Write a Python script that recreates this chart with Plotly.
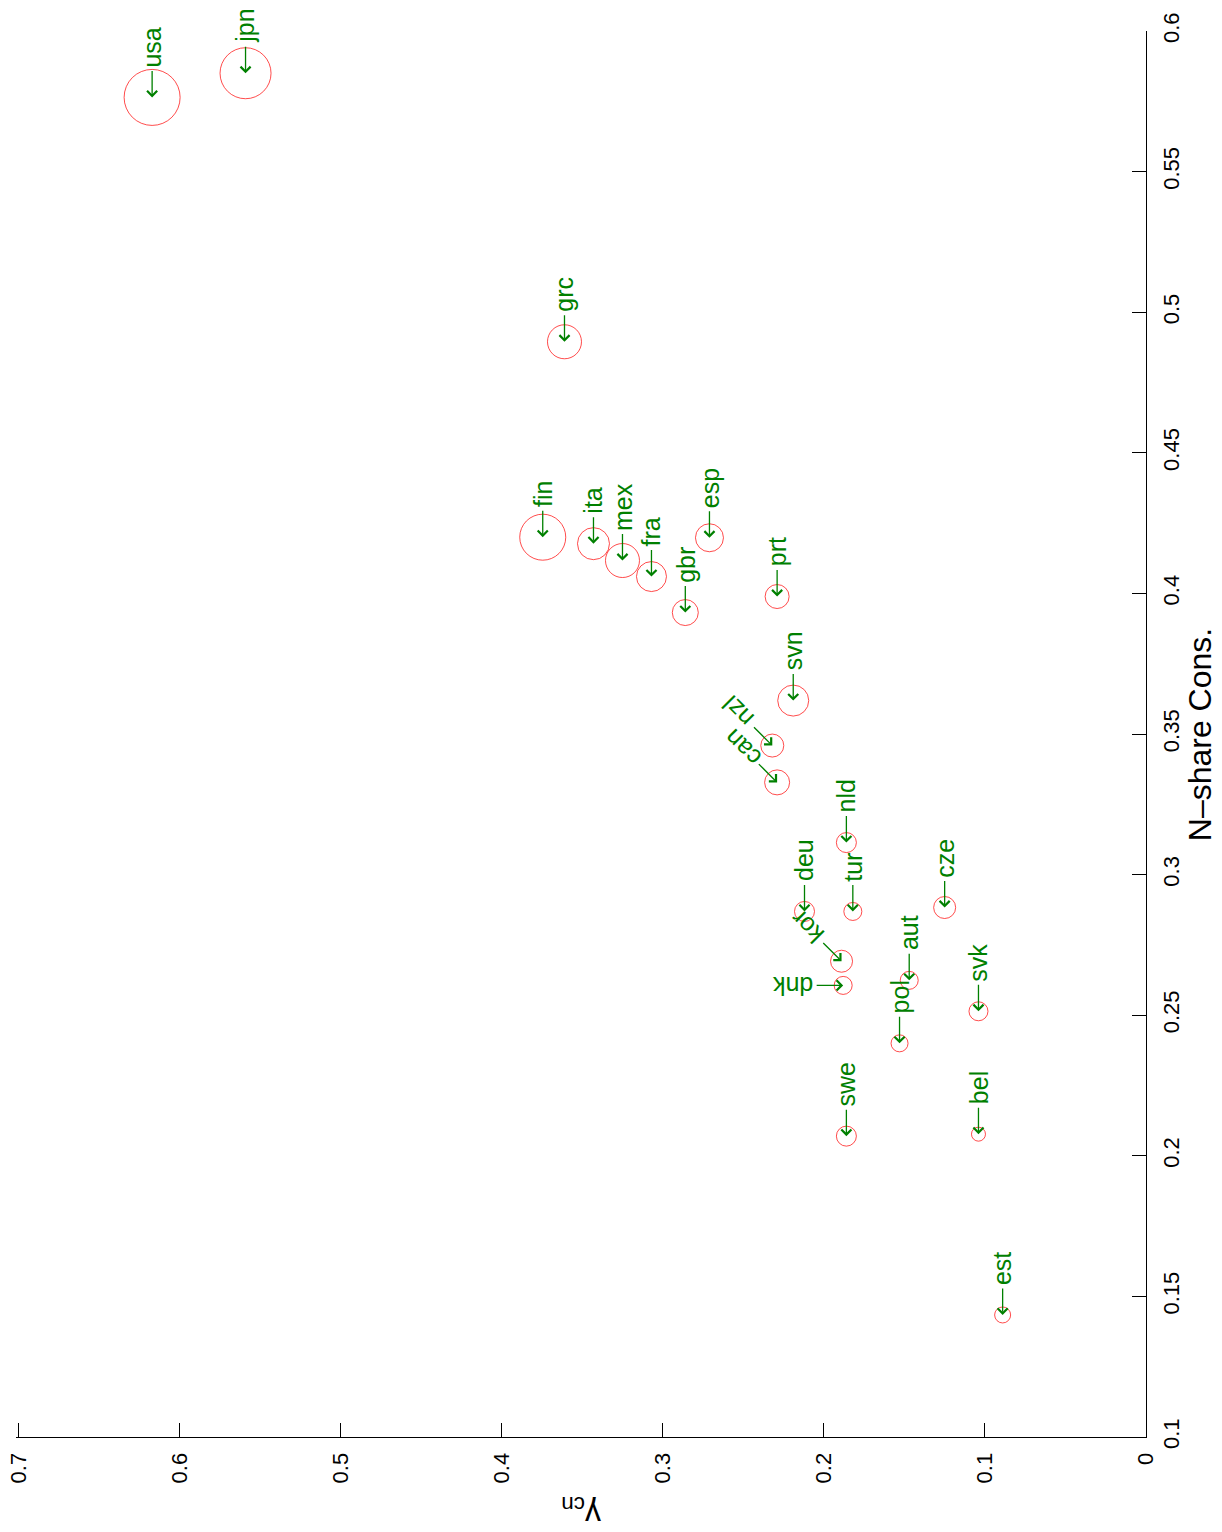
import plotly.graph_objects as go

countries = ["usa", "jpn", "grc", "fin", "ita", "mex", "fra", "esp", "gbr", "prt",
             "svn", "nzl", "can", "nld", "deu", "tur", "cze", "kor", "dnk", "aut",
             "pol", "svk", "swe", "bel", "est"]
gamma_cn = [0.617, 0.559, 0.361, 0.3745, 0.343, 0.325, 0.307, 0.271, 0.286, 0.229,
            0.219, 0.232, 0.229, 0.186, 0.212, 0.182, 0.125, 0.189, 0.188, 0.147,
            0.153, 0.104, 0.186, 0.104, 0.089]
n_share = [0.5764, 0.585, 0.4895, 0.420, 0.4177, 0.4117, 0.406, 0.4198, 0.3932, 0.3989,
           0.3619, 0.3459, 0.3328, 0.3114, 0.2869, 0.2869, 0.2883, 0.2692, 0.2606, 0.2624,
           0.240, 0.2514, 0.207, 0.2077, 0.1434]
weight = [0.56, 0.51, 0.34, 0.46, 0.32, 0.34, 0.30, 0.28, 0.26, 0.24,
          0.31, 0.23, 0.25, 0.20, 0.20, 0.18, 0.22, 0.22, 0.18, 0.18,
          0.17, 0.19, 0.20, 0.14, 0.16]
x_ticks = [0, 0.1, 0.2, 0.3, 0.4, 0.5, 0.6, 0.7]
x_ticklabels = ["0", "0.1", "0.2", "0.3", "0.4", "0.5", "0.6", "0.7"]
y_ticks = [0.1, 0.15, 0.2, 0.25, 0.3, 0.35, 0.4, 0.45, 0.5, 0.55, 0.6]
y_ticklabels = ["0.1", "0.15", "0.2", "0.25", "0.3", "0.35", "0.4", "0.45", "0.5", "0.55", "0.6"]

FONT = "Liberation Sans, Arial, Helvetica, sans-serif"
GREEN = "#008000"
LABEL_SIZE = 25
ARROW_LEN = 28

special_angle = {"can": -135, "nzl": -135, "kor": -135, "dnk": 180}

fig = go.Figure()
fig.add_trace(go.Scatter(
    x=gamma_cn, y=n_share, mode="markers",
    marker=dict(symbol="circle-open", size=[w * 100 for w in weight],
                color="red", line=dict(color="red", width=1)),
    hoverinfo="text", text=countries, showlegend=False,
))

annotations = []
for c, g, n in zip(countries, gamma_cn, n_share):
    ang = special_angle.get(c, -90)
    font = dict(family=FONT, size=LABEL_SIZE, color=GREEN)
    if ang == -90:
        ax, ay = 0, -ARROW_LEN
    elif ang == 180:
        ax, ay = -ARROW_LEN, 0
    else:
        ax, ay = -0.707 * ARROW_LEN, -0.707 * ARROW_LEN
    # arrow pointing at the point
    annotations.append(dict(x=g, y=n, xref="x", yref="y", text="", showarrow=True,
                            ax=ax, ay=ay, arrowhead=4, arrowsize=1.5, arrowwidth=1.3,
                            arrowcolor=GREEN, standoff=0))
    lab = dict(x=g, y=n, xref="x", yref="y", text=c, showarrow=False,
               textangle=ang, borderpad=0, font=font)
    if ang == -90:
        lab.update(xanchor="center", yanchor="bottom", yshift=ARROW_LEN + 1)
    elif ang == 180:
        lab.update(xanchor="right", yanchor="middle", xshift=-ARROW_LEN - 1)
    else:
        L = LABEL_SIZE * 0.52 * len(c)
        d = ARROW_LEN + 1 + L / 2
        lab.update(xanchor="center", yanchor="middle",
                   xshift=-0.707 * d, yshift=0.707 * d)
    annotations.append(lab)

annotations.append(dict(text="\u03b3<sub>cn</sub>", x=0.5, y=-0.0533, xref="paper", yref="paper",
                        showarrow=False, textangle=180, xanchor="center", yanchor="middle",
                        font=dict(family=FONT, size=32, color="black")))
annotations.append(dict(text="N\u2013share Cons.", x=1.048, y=0.4993, xref="paper", yref="paper",
                        showarrow=False, textangle=-90, xanchor="center", yanchor="middle",
                        font=dict(family=FONT, size=32, color="black")))

fig.update_layout(
    width=1214, height=1524,
    margin=dict(l=8, r=76, t=23, b=95, autoexpand=False),
    paper_bgcolor="white", plot_bgcolor="white",
    annotations=annotations,
    xaxis=dict(range=[0.7015, 0], tickvals=x_ticks, ticktext=x_ticklabels, tickangle=-90,
               ticks="inside", ticklen=14, tickcolor="black", tickwidth=1, automargin=False,
               showline=True, linecolor="black", linewidth=1, showgrid=False, zeroline=False,
               ticklabeloverflow="allow",
               tickfont=dict(family=FONT, size=22, color="black"), ticklabelstandoff=6),
    yaxis=dict(range=[0.1, 0.60002], side="right", tickvals=y_ticks, ticktext=y_ticklabels,
               tickangle=-90, ticks="inside", ticklen=14, tickcolor="black", tickwidth=1,
               automargin=False, ticklabeloverflow="allow",
               showline=True, linecolor="black", linewidth=1, showgrid=False, zeroline=False,
               tickfont=dict(family=FONT, size=22, color="black"), ticklabelstandoff=6),
)

fig.write_html("out.html")
